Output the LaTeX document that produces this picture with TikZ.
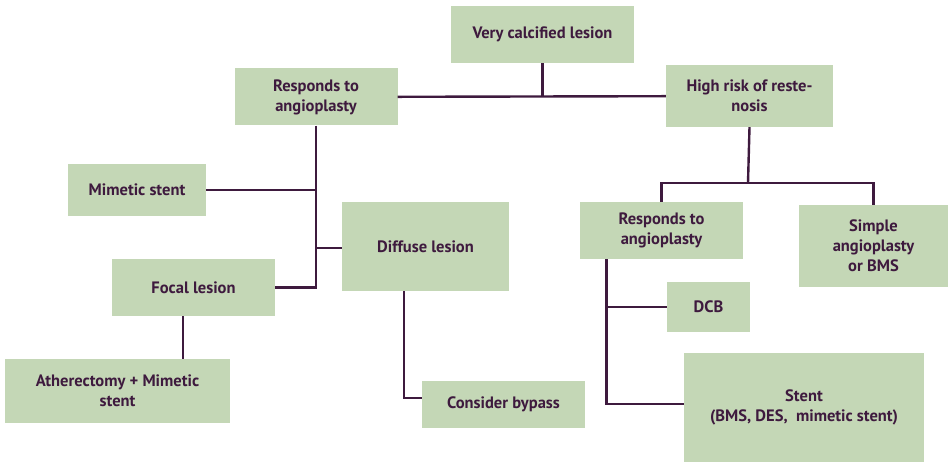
\documentclass[tikz,border=0pt]{standalone}
\usepackage{xcolor}
\usepackage{fontspec}
\setmainfont{PT Sans}
\usepackage{tikz}
\usetikzlibrary{positioning, calc}
\definecolor{sagefill}{RGB}{196,215,182}
\definecolor{plumline}{RGB}{62,26,62}

\begin{document}
\begin{tikzpicture}[x=1pt, y=-1pt, font=\fontsize{16.5}{20}\selectfont]
  \tikzset{
    dbox/.style={
      rectangle, fill=sagefill, draw=none, inner sep=2pt,
      align=center, text=plumline, font=\fontsize{16.5}{20}\selectfont\bfseries
    },
    link/.style={draw=plumline, line width=2.4pt}
  }
  \useasboundingbox (0,0) rectangle (948,462);
  % top level
  \node[dbox, minimum width=183pt, minimum height=57pt] (vcl) at (542.5,34.5) {Very calcified lesion};
  \node[dbox, minimum width=163pt, minimum height=57pt] (resp1) at (316,97) {Responds to\\angioplasty};
  \node[dbox, minimum width=167pt, minimum height=62pt] (hrisk) at (749.5,96) {High risk of reste-\\nosis};
  % left branch
  \node[dbox, minimum width=138pt, minimum height=52pt] (mim) at (137,190) {Mimetic stent};
  \node[dbox, minimum width=167pt, minimum height=89pt] (diff) at (425.5,246.5) {Diffuse lesion};
  \node[dbox, minimum width=163pt, minimum height=57pt] (focal) at (193.5,287.5) {Focal lesion};
  \node[dbox, minimum width=225pt, minimum height=64pt] (ather) at (117.5,391) {Atherectomy + Mimetic\\stent};
  \node[dbox, minimum width=163pt, minimum height=47pt] (bypass) at (503.5,404.5) {Consider bypass};
  % right branch
  \node[dbox, minimum width=163pt, minimum height=57pt] (resp2) at (661.5,230.5) {Responds to\\angioplasty};
  \node[dbox, minimum width=149pt, minimum height=82pt] (simple) at (873.5,246) {Simple\\angioplasty\\or BMS};
  \node[dbox, minimum width=83pt, minimum height=50pt] (dcb) at (708.5,307) {DCB};
  \node[dbox, minimum width=240pt, minimum height=109pt] (stent) at (804,407.5) {Stent\\(BMS, DES,\ \ mimetic stent)};
  \coordinate (rsplit) at (748,183);
  \coordinate (rtrunk) at ([xshift=-55pt]resp2.south);
  % connectors
  \draw[link] (resp1) -- (hrisk);
  \draw[link] (vcl.south) -- (vcl.south |- resp1);
  \draw[link] (resp1.south) |- (focal.east);
  \draw[link] (mim.east) -- (mim.east -| resp1.south);
  \draw[link] ([yshift=-1.5pt]diff.west) -- ([yshift=-1.5pt]diff.west -| resp1.south);
  \draw[link] ([xshift=-10.5pt]focal.south) -- ([xshift=-10.5pt]focal.south |- ather.north);
  \draw[link] ([xshift=-21.5pt]diff.south) |- ([yshift=6.5pt]bypass.west);
  \draw[link] (hrisk.south) -- (rsplit);
  \draw[link] (resp2.north) |- (rsplit) -| (simple.north);
  \draw[link] (rtrunk) |- ([yshift=3.5pt]stent.west);
  \draw[link] (dcb.west) -- (dcb.west -| rtrunk);
\end{tikzpicture}
\end{document}
